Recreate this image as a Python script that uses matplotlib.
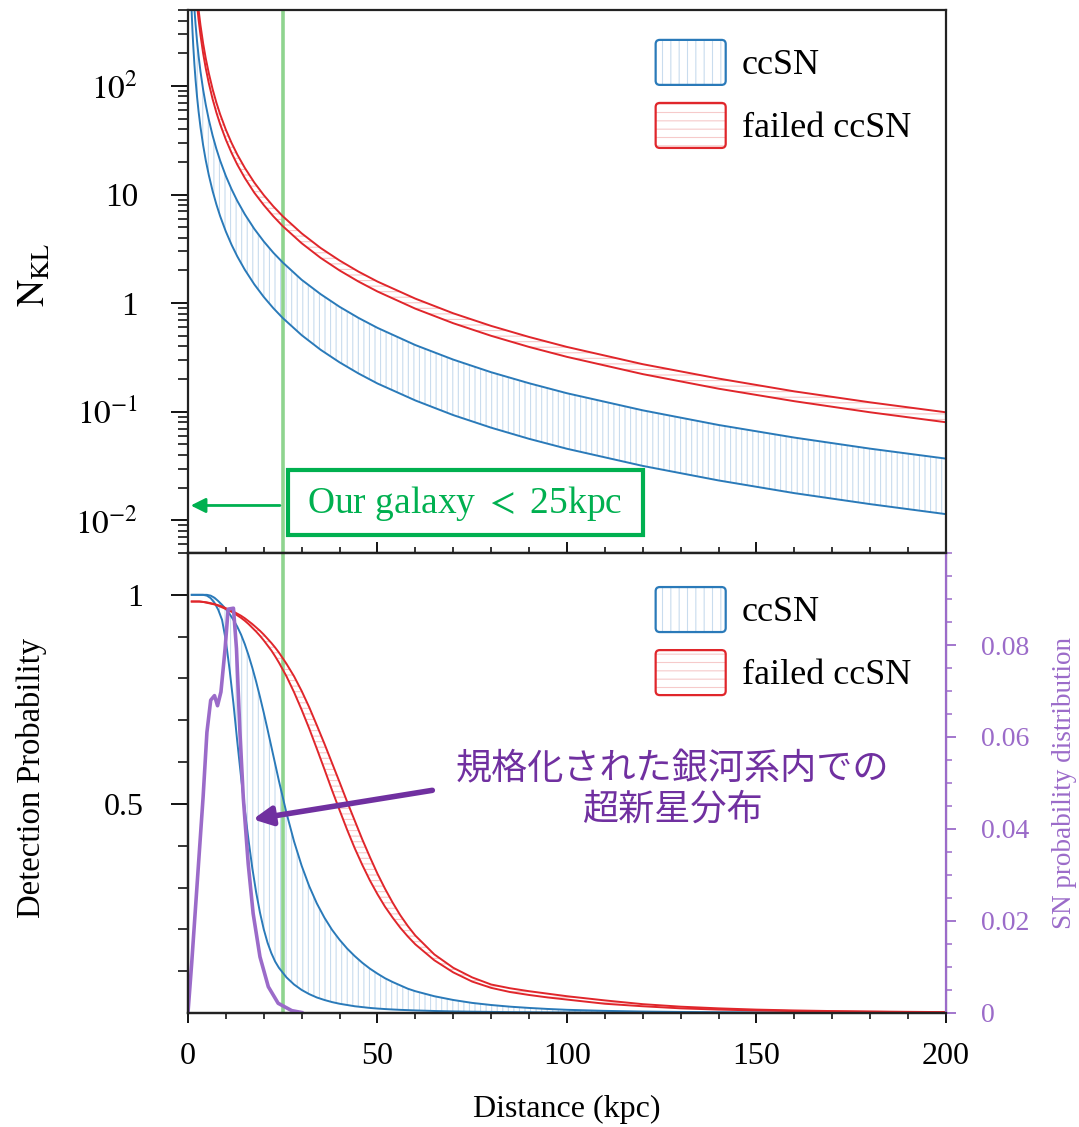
import matplotlib
matplotlib.use('Agg')
import matplotlib.pyplot as plt
from matplotlib.patches import Patch, FancyBboxPatch, Rectangle
from matplotlib.legend_handler import HandlerBase
from matplotlib.ticker import LogLocator, FixedLocator, MultipleLocator, FuncFormatter, NullFormatter

plt.rcParams['font.family'] = ['Liberation Serif', 'DejaVu Serif']
plt.rcParams['mathtext.fontset'] = 'stix'
plt.rcParams['hatch.linewidth'] = 0.8

# -----------------------------
# data
# -----------------------------
# top panel: expected number of events N_KL vs distance (kpc)
top_dist = [0.8, 1, 1.2, 1.4, 1.7, 2, 2.4, 2.8, 3.3, 4, 4.7, 5.5, 6.5, 7.5, 8.5, 10, 11.5,
            13, 15, 17.5, 20, 22.5, 25, 30, 35, 40, 45, 50, 60, 70, 80, 90, 100, 120, 140,
            160, 180, 200]
nkl_ccsn_lo = [712, 456, 317, 233, 158, 114, 79.2, 58.2, 41.9, 28.5, 20.6, 15.1, 10.8, 8.11,
               6.31, 4.56, 3.45, 2.70, 2.03, 1.49, 1.14, 0.901, 0.730, 0.507, 0.372, 0.285,
               0.225, 0.182, 0.127, 0.0931, 0.0713, 0.0563, 0.0456, 0.0317, 0.0233, 0.0178,
               0.0141, 0.0114]
nkl_ccsn_hi = [2313, 1480, 1028, 755, 512, 370, 257, 189, 136, 92.5, 67.0, 48.9, 35.0, 26.3,
               20.5, 14.8, 11.2, 8.76, 6.58, 4.83, 3.70, 2.92, 2.37, 1.64, 1.21, 0.925, 0.731,
               0.592, 0.411, 0.302, 0.231, 0.183, 0.148, 0.103, 0.0755, 0.0578, 0.0457, 0.037]
nkl_fail_lo = [5000, 3200, 2222, 1633, 1107, 800, 556, 408, 294, 200, 145, 106, 75.7, 56.9,
               44.3, 32.0, 24.2, 18.9, 14.2, 10.4, 8.0, 6.32, 5.12, 3.56, 2.61, 2.0, 1.58,
               1.28, 0.889, 0.653, 0.5, 0.395, 0.32, 0.222, 0.163, 0.125, 0.0988, 0.08]
nkl_fail_hi = [6172, 3950, 2743, 2015, 1367, 988, 686, 504, 363, 247, 179, 131, 93.5, 70.2,
               54.7, 39.5, 29.9, 23.4, 17.6, 12.9, 9.88, 7.80, 6.32, 4.39, 3.22, 2.47, 1.95,
               1.58, 1.10, 0.806, 0.617, 0.488, 0.395, 0.274, 0.202, 0.154, 0.122, 0.0988]

# bottom panel: detection probability vs distance
prob_dist = [1, 2, 3, 4, 5, 6, 7, 8, 9, 10, 11, 12, 13, 14, 15, 16, 17, 18, 19, 20, 21, 22,
             23, 24, 26, 28, 30, 32, 34, 36, 38, 40, 42, 44, 46, 48, 50, 52, 54, 56, 58, 60,
             65, 70, 75, 80, 85, 90, 95, 100, 110, 120, 130, 140, 150, 160, 170, 180, 190, 200]
prob_ccsn_lo = [1.0, 1.0, 1.0, 1.0, 0.998, 0.992, 0.981, 0.964, 0.94, 0.89, 0.82, 0.74, 0.65,
                0.565, 0.485, 0.412, 0.345, 0.288, 0.24, 0.2, 0.168, 0.143, 0.123, 0.108,
                0.085, 0.068, 0.055, 0.045, 0.037, 0.031, 0.026, 0.022, 0.019, 0.016, 0.014,
                0.012, 0.0105, 0.0093, 0.0083, 0.0074, 0.0067, 0.006, 0.0047, 0.0037, 0.003,
                0.0025, 0.002, 0.0017, 0.0014, 0.0012, 0.0009, 0.0007, 0.0005, 0.0004,
                0.0003, 0.0002, 0.0002, 0.0001, 0.0001, 0.0001]
prob_ccsn_hi = [1.0, 1.0, 1.0, 1.0, 1.0, 0.998, 0.993, 0.985, 0.976, 0.966, 0.954, 0.94, 0.924,
                0.905, 0.882, 0.855, 0.825, 0.792, 0.756, 0.718, 0.678, 0.637, 0.596, 0.555,
                0.478, 0.41, 0.352, 0.303, 0.262, 0.228, 0.199, 0.175, 0.154, 0.136, 0.12,
                0.106, 0.094, 0.083, 0.074, 0.066, 0.058, 0.052, 0.04, 0.031, 0.024, 0.019,
                0.015, 0.012, 0.0095, 0.0075, 0.005, 0.0034, 0.0024, 0.0017, 0.0012, 0.0009,
                0.0007, 0.0005, 0.0004, 0.0003]
prob_fail_lo = [0.984, 0.984, 0.984, 0.983, 0.981, 0.979, 0.977, 0.974, 0.97, 0.966, 0.962,
                0.957, 0.951, 0.945, 0.938, 0.93, 0.921, 0.912, 0.902, 0.891, 0.879, 0.867,
                0.853, 0.838, 0.805, 0.767, 0.725, 0.68, 0.632, 0.583, 0.533, 0.485, 0.438,
                0.394, 0.354, 0.317, 0.284, 0.254, 0.228, 0.204, 0.183, 0.164, 0.126, 0.097,
                0.075, 0.06, 0.05, 0.043, 0.037, 0.032, 0.022, 0.016, 0.011, 0.008, 0.006,
                0.0045, 0.0035, 0.0027, 0.002, 0.0015]
prob_fail_hi = [0.984, 0.984, 0.984, 0.983, 0.982, 0.98, 0.978, 0.975, 0.972, 0.968, 0.964,
                0.96, 0.955, 0.95, 0.944, 0.937, 0.93, 0.922, 0.914, 0.905, 0.895, 0.885,
                0.874, 0.862, 0.835, 0.805, 0.77, 0.731, 0.688, 0.644, 0.598, 0.552, 0.505,
                0.46, 0.415, 0.373, 0.333, 0.297, 0.264, 0.234, 0.208, 0.185, 0.14, 0.108,
                0.085, 0.068, 0.059, 0.052, 0.046, 0.04, 0.03, 0.021, 0.015, 0.011, 0.008,
                0.006, 0.0045, 0.0035, 0.0027, 0.002]

# normalised galactic SN distribution (right axis)
sn_dist = [0, 1, 2, 3, 4, 5, 6, 7, 7.8, 8.7, 9.8, 10.6, 12, 12.8, 13.7, 14.6, 15.9, 17.2,
           19, 21.2, 23.8, 27.4, 30]
sn_prob = [0, 0.011, 0.023, 0.035, 0.047, 0.061, 0.068, 0.069, 0.0668, 0.0698, 0.0792,
           0.0878, 0.088, 0.0792, 0.0612, 0.0468, 0.0324, 0.0216, 0.0122, 0.0057, 0.0021,
           0.0005, 0.0001]

galaxy_edge = 25

# -----------------------------
# colours
# -----------------------------
blue = '#2a7ab9'
blue_hatch = '#c9dcee'
red = '#e0262b'
red_hatch = '#f6caca'
purple = '#9b6bc9'
purple_dark = '#7030a0'
green = '#00b050'
green_line = '#8fd48f'


class RoundHatchHandler(HandlerBase):
    def __init__(self, edge, hatch_color, hatch):
        super().__init__()
        self.edge = edge
        self.hatch_color = hatch_color
        self.hatch = hatch

    def create_artists(self, legend, orig_handle, xdescent, ydescent, width, height,
                       fontsize, trans):
        box = dict(boxstyle='round,pad=0,rounding_size=3', transform=trans)
        p1 = FancyBboxPatch((-xdescent, -ydescent), width, height, fc='none',
                            ec=self.hatch_color, hatch=self.hatch, lw=0, **box)
        p2 = FancyBboxPatch((-xdescent, -ydescent), width, height, fc='none',
                            ec=self.edge, lw=1.6, **box)
        return [p1, p2]


def add_legend(ax, y_anchor):
    h1 = Patch(label='ccSN')
    h2 = Patch(label='failed ccSN')
    ax.legend(handles=[h1, h2], loc='upper left', bbox_to_anchor=(0.617, y_anchor),
              frameon=False, fontsize=26, handlelength=1.94, handleheight=1.54,
              handletextpad=0.45, labelspacing=0.5, borderpad=0, borderaxespad=0,
              handler_map={h1: RoundHatchHandler(blue, blue_hatch, '||'),
                           h2: RoundHatchHandler(red, red_hatch, '--')})


fig = plt.figure(figsize=(10.79, 11.27), dpi=100)
ax1 = fig.add_axes([0.1742, 0.5093, 0.7025, 0.4818])
ax2 = fig.add_axes([0.1742, 0.1012, 0.7025, 0.4081])

# -----------------------------
# top panel
# -----------------------------
ax1.fill_between(top_dist, nkl_ccsn_lo, nkl_ccsn_hi, facecolor='none', edgecolor=blue_hatch,
                 hatch='|||', linewidth=0)
ax1.fill_between(top_dist, nkl_fail_lo, nkl_fail_hi, facecolor='none', edgecolor=red_hatch,
                 hatch='---', linewidth=0)
for vals in (nkl_ccsn_lo, nkl_ccsn_hi):
    ax1.plot(top_dist, vals, color=blue, lw=1.4)
for vals in (nkl_fail_lo, nkl_fail_hi):
    ax1.plot(top_dist, vals, color=red, lw=1.4)
ax1.axvline(galaxy_edge, color=green_line, lw=2.6, zorder=1)

ax1.set_yscale('log')
ax1.set_ylim(5e-3, 5e2)
ax1.set_xlim(0, 200)

labels_log = {100: r'$10^2$', 10: '10', 1: '1', 0.1: r'$10^{-1}$', 0.01: r'$10^{-2}$'}
ax1.yaxis.set_major_locator(LogLocator(base=10, numticks=10))
ax1.yaxis.set_minor_locator(LogLocator(base=10, subs=range(2, 10), numticks=20))
ax1.yaxis.set_major_formatter(FuncFormatter(
    lambda v, _: min(labels_log.items(), key=lambda kv: abs(kv[0] - v) / kv[0])[1]))
ax1.yaxis.set_minor_formatter(NullFormatter())
ax1.xaxis.set_major_locator(MultipleLocator(50))
ax1.xaxis.set_minor_locator(MultipleLocator(10))
ax1.tick_params(axis='x', which='both', direction='in', labelbottom=False)
ax1.tick_params(axis='x', which='major', length=8, width=1.3)
ax1.tick_params(axis='x', which='minor', length=4, width=1.1)
ax1.tick_params(axis='y', which='major', direction='out', length=12, width=1.3,
                labelsize=24, pad=24)
ax1.tick_params(axis='y', which='minor', direction='out', length=7, width=1.1)
ax1.set_ylabel(r'$\mathrm{N}_{\mathrm{KL}}$', fontsize=27)
ax1.yaxis.set_label_coords(-0.178, 0.512)

# "Our galaxy" box and arrow
ax1.annotate('', xy=(0, 0.0137), xytext=(galaxy_edge, 0.0137),
             arrowprops=dict(arrowstyle='-|>', color=green, lw=2, mutation_scale=22))
ax1.add_patch(Rectangle((0.1319, 0.0331), 0.4684, 0.1198, transform=ax1.transAxes,
                        fc='white', ec=green, lw=3, zorder=4))
ax1.text(0.3654, 0.092, r'Our galaxy $<$ 25kpc', transform=ax1.transAxes, ha='center',
         va='center', fontsize=27, color=green, zorder=5)
add_legend(ax1, 0.945)

# -----------------------------
# bottom panel
# -----------------------------
ax3 = ax2.twinx()
ax2.fill_between(prob_dist, prob_ccsn_lo, prob_ccsn_hi, facecolor='none',
                 edgecolor=blue_hatch, hatch='|||', linewidth=0)
ax2.fill_between(prob_dist, prob_fail_lo, prob_fail_hi, facecolor='none',
                 edgecolor=red_hatch, hatch='---', linewidth=0)
for vals in (prob_ccsn_lo, prob_ccsn_hi):
    ax2.plot(prob_dist, vals, color=blue, lw=1.4)
for vals in (prob_fail_lo, prob_fail_hi):
    ax2.plot(prob_dist, vals, color=red, lw=1.4)
ax2.axvline(galaxy_edge, color=green_line, lw=2.6, zorder=1)
ax2.set_xlim(0, 200)
ax2.set_ylim(0, 1.1)
ax2.yaxis.set_major_locator(FixedLocator([0.5, 1]))
ax2.yaxis.set_major_formatter(FuncFormatter(lambda v, _: '1' if v == 1 else f'{v:g}'))
ax2.yaxis.set_minor_locator(FixedLocator([0.1, 0.2, 0.3, 0.4, 0.6, 0.7, 0.8, 0.9]))
ax2.xaxis.set_major_locator(MultipleLocator(50))
ax2.xaxis.set_minor_locator(MultipleLocator(10))
ax2.tick_params(axis='both', which='both', direction='out')
ax2.tick_params(axis='y', which='major', length=12, width=1.3, labelsize=23, pad=20)
ax2.tick_params(axis='y', which='minor', length=7, width=1.1)
ax2.tick_params(axis='x', which='major', length=7, width=1.3, labelsize=23, pad=14)
ax2.tick_params(axis='x', which='minor', length=4, width=1.1)
ax2.set_ylabel('Detection Probability', fontsize=23.5)
ax2.yaxis.set_label_coords(-0.186, 0.51)
ax2.set_xlabel('Distance (kpc)', fontsize=23)
ax2.xaxis.set_label_coords(0.5, -0.178)

ax3.plot(sn_dist, sn_prob, color=purple, lw=2.6)
ax3.set_ylim(0, 0.1)
ax3.yaxis.set_major_locator(FixedLocator([0, 0.02, 0.04, 0.06, 0.08]))
ax3.yaxis.set_major_formatter(FuncFormatter(lambda v, _: '0' if v == 0 else f'{v:.2f}'))
ax3.yaxis.set_minor_locator(MultipleLocator(0.005))
ax3.tick_params(axis='y', which='major', direction='out', length=7, width=1.3,
                labelsize=20, colors=purple, pad=18)
ax3.tick_params(axis='y', which='minor', direction='out', length=4, width=1.1,
                colors=purple)
ax3.spines['right'].set_color(purple)
ax3.spines['right'].set_linewidth(1.6)
ax3.set_ylabel('SN probability distribution', fontsize=19.5, color=purple)
ax3.yaxis.set_label_coords(1.14, 0.5)

ax3.annotate('', xy=(16.4, 0.042), xytext=(65.2, 0.0485),
             arrowprops=dict(arrowstyle='-|>', color=purple_dark, lw=4, mutation_scale=28))
ax3.text(127.7, 0.0485, '規格化された銀河系内での\n超新星分布', ha='center', va='center',
         fontsize=26, color=purple_dark, linespacing=1.15,
         family=['Noto Sans CJK JP', 'DejaVu Sans'])
add_legend(ax3, 0.926)

for ax in (ax1, ax2, ax3):
    for s in ('left', 'bottom', 'top'):
        ax.spines[s].set_linewidth(1.6)
        ax.spines[s].set_color('#222222')
ax1.spines['right'].set_linewidth(1.6)
ax1.spines['right'].set_color('#222222')

fig.savefig('out.png', dpi=100)
